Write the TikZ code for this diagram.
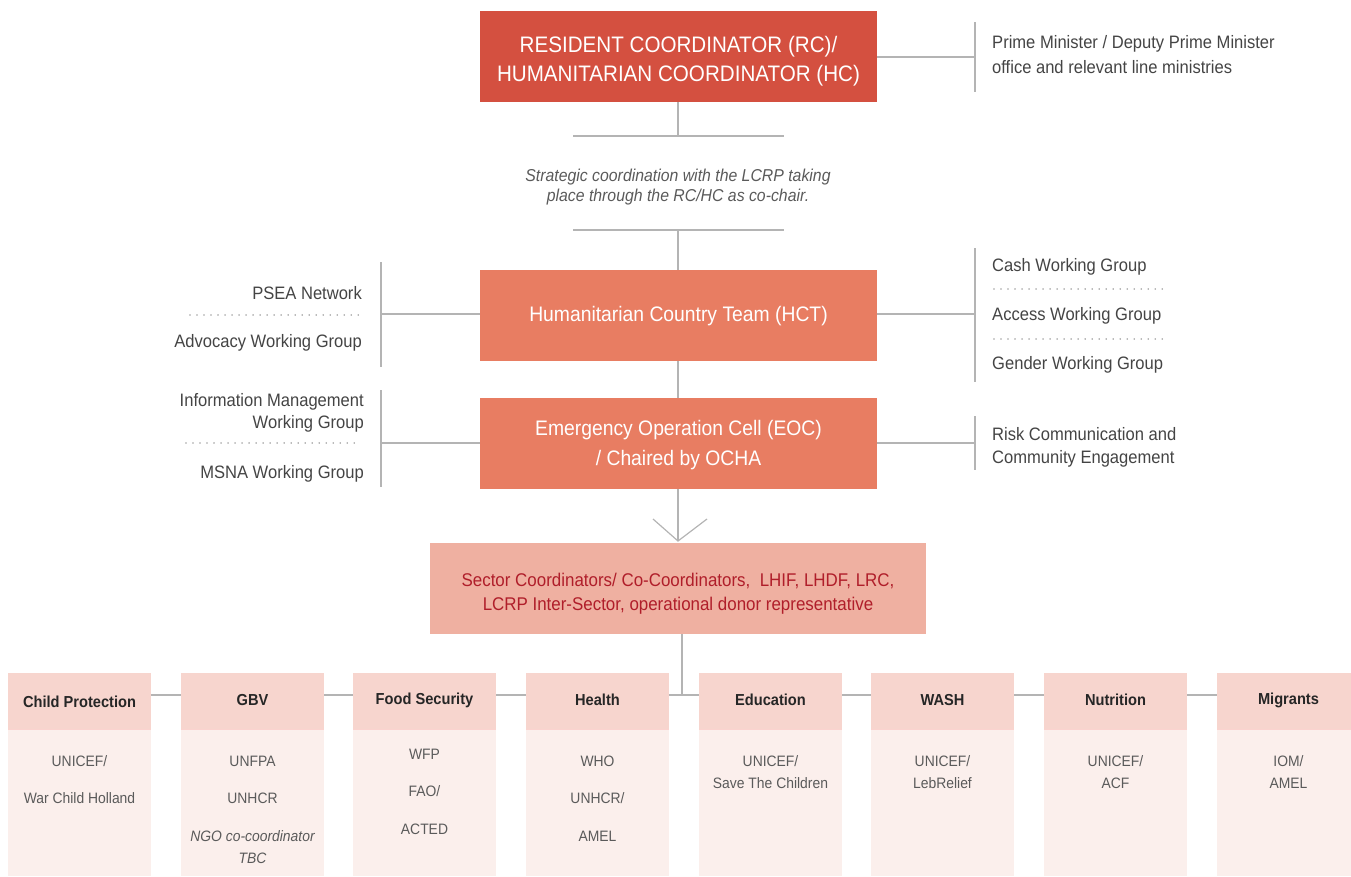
\documentclass[tikz,border=0pt]{standalone}
\usepackage{fontspec}
\setmainfont{Liberation Sans}[FakeStretch=0.92]
\usetikzlibrary{positioning}
\definecolor{rcred}{HTML}{D45040}
\definecolor{hctor}{HTML}{E87D62}
\definecolor{secpk}{HTML}{EFB0A1}
\definecolor{sectx}{HTML}{B01E2A}
\definecolor{hdpk}{HTML}{F7D5CE}
\definecolor{bdpk}{HTML}{FBEFEC}
\definecolor{ln}{HTML}{B4B4B4}
\definecolor{tx}{HTML}{444444}
\definecolor{bt}{HTML}{5A5A5A}
\tikzset{
  conn/.style={draw=ln, line width=1.2pt},
  dots/.style={draw=ln!90!black, line width=1.6pt, dash pattern=on 0.01pt off 7pt, line cap=round},
  lbl/.style={text=tx, font=\fontsize{18}{21}\selectfont, inner sep=0pt, yshift=-2pt},
  hdr/.style={text=black!85, font=\bfseries\fontsize{15.9}{20}\selectfont, inner sep=0pt, yshift=-1pt},
  bdy/.style={text=bt, font=\fontsize{15.1}{19}\selectfont, inner sep=0pt, yshift=-1.5pt},
  bdyit/.style={text=bt, font=\itshape\fontsize{15.1}{19}\selectfont, inner sep=0pt, yshift=-1.5pt},
  wtx/.style={text=white, font=\fontsize{21}{24}\selectfont, inner sep=0pt, yshift=-2pt},
  sttx/.style={text=bt, font=\itshape\fontsize{17.2}{20}\selectfont, inner sep=0pt, yshift=-2pt},
  sctx/.style={text=sectx, font=\fontsize{18.4}{22}\selectfont, inner sep=0pt, yshift=-2pt},
}
\begin{document}
\begin{tikzpicture}[x=1pt,y=-1pt]
\useasboundingbox (0,0) rectangle (1351,876);
% RC box
\fill[rcred] (480,11) rectangle (877,102);
\coordinate (rcR) at (877,57);
\coordinate (rcB) at (678,102);
\node[text=white, font=\fontsize{22.4}{29}\selectfont, align=center, inner sep=0pt] (rc) at (678.5,61) {RESIDENT COORDINATOR (RC)/\\HUMANITARIAN COORDINATOR (HC)};
% PM
\coordinate (pmV1) at (975,22);
\coordinate (pmV2) at (975,92);
\coordinate (pmM) at (975,57);
\draw[conn] (rcR) -- (pmM);
\draw[conn] (pmV1) -- (pmV2);
\node[lbl, anchor=west] (pm1) at (992,42) {Prime Minister / Deputy Prime Minister};
\node[lbl, anchor=west] (pm2) at (992,65) {office and relevant line ministries};
% strategic
\coordinate (s1) at (678,136);
\coordinate (s1L) at (573,136);
\coordinate (s1R) at (784,136);
\coordinate (s2) at (678,230);
\coordinate (s2L) at (573,230);
\coordinate (s2R) at (784,230);
\draw[conn] (rcB) -- (s1);
\draw[conn] (s1L) -- (s1R);
\draw[conn] (s2L) -- (s2R);
\node[sttx] (st1) at (678,175) {Strategic coordination with the LCRP taking};
\node[sttx] (st2) at (678,195) {place through the RC/HC as co-chair.};
% HCT
\fill[hctor] (480,270) rectangle (877,361);
\coordinate (hctT) at (678,270);
\coordinate (hctB) at (678,361);
\coordinate (hctL) at (480,314);
\coordinate (hctR) at (877,314);
\draw[conn] (s2) -- (hctT);
\node[wtx] (hct) at (678.5,314) {Humanitarian Country Team (HCT)};
% HCT left
\coordinate (hl1) at (381,262);
\coordinate (hl2) at (381,367);
\coordinate (hlM) at (381,314);
\draw[conn] (hctL) -- (hlM);
\draw[conn] (hl1) -- (hl2);
\node[lbl, anchor=east] (psea) at (362,291) {PSEA Network};
\coordinate (d1a) at (190,315);
\coordinate (d1b) at (362,315);
\draw[dots] (d1a) -- (d1b);
\node[lbl, anchor=east] (adv) at (362,341) {Advocacy Working Group};
% HCT right
\coordinate (hr1) at (975,248);
\coordinate (hr2) at (975,382);
\coordinate (hrM) at (975,314);
\draw[conn] (hctR) -- (hrM);
\draw[conn] (hr1) -- (hr2);
\node[lbl, anchor=west] (cash) at (992,265) {Cash Working Group};
\coordinate (d2a) at (994,289);
\coordinate (d2b) at (1167,289);
\draw[dots] (d2a) -- (d2b);
\node[lbl, anchor=west] (acc) at (992,314) {Access Working Group};
\coordinate (d3a) at (994,339);
\coordinate (d3b) at (1167,339);
\draw[dots] (d3a) -- (d3b);
\node[lbl, anchor=west] (gen) at (992,363) {Gender Working Group};
% EOC
\fill[hctor] (480,398) rectangle (877,489);
\coordinate (eocT) at (678,398);
\coordinate (eocB) at (678,489);
\coordinate (eocL) at (480,443);
\coordinate (eocR) at (877,443);
\draw[conn] (hctB) -- (eocT);
\node[wtx] (eoc1) at (678.5,428) {Emergency Operation Cell (EOC)};
\node[wtx] (eoc2) at (678.5,458) {/ Chaired by OCHA};
% EOC left
\coordinate (el1) at (381,390);
\coordinate (el2) at (381,487);
\coordinate (elM) at (381,443);
\draw[conn] (eocL) -- (elM);
\draw[conn] (el1) -- (el2);
\node[lbl, anchor=east] (im1) at (364,400) {Information Management};
\node[lbl, anchor=east] (im2) at (364,422) {Working Group};
\coordinate (d4a) at (186,443);
\coordinate (d4b) at (360,443);
\draw[dots] (d4a) -- (d4b);
\node[lbl, anchor=east] (msna) at (364,472) {MSNA Working Group};
% EOC right
\coordinate (er1) at (975,416);
\coordinate (er2) at (975,470);
\coordinate (erM) at (975,443);
\draw[conn] (eocR) -- (erM);
\draw[conn] (er1) -- (er2);
\node[lbl, anchor=west] (rc1) at (992,432) {Risk Communication and};
\node[lbl, anchor=west] (rc2) at (992,457) {Community Engagement};
% arrow
\coordinate (arrT) at (678,541);
\coordinate (arrL) at (653,519);
\coordinate (arrR) at (707,519);
\draw[conn] (eocB) -- (arrT);
\draw[conn] (arrL) -- (arrT) -- (arrR);
% Sector
\fill[secpk] (430,543) rectangle (926,634);
\coordinate (secB) at (682,634);
\node[sctx] (sec1) at (678,579) {Sector Coordinators/ Co-Coordinators,\ \ LHIF, LHDF, LRC,};
\node[sctx] (sec2) at (678,604) {LCRP Inter-Sector, operational donor representative};
\coordinate (bus) at (682,695);
\draw[conn] (secB) -- (bus);
% columns
\coordinate (busL) at (151,695);
\coordinate (busR) at (1217,695);
\draw[conn] (busL) -- (busR);
\foreach \x/\n in {8/c1,181/c2,353/c3,526/c4,699/c5,871/c6,1044/c7,1217/c8}{
  \fill[bdpk] (\x,729) rectangle ++(143,147);
  \fill[hdpk] (\x,673) rectangle ++(143,56);
  \draw[draw=hdpk!85!red!60!white, line width=0.8pt] (\x,729.4) -- ++(143,0);
}
\node[hdr] (h1) at (79.5,701) {Child Protection};
\node[hdr] (h2) at (252.5,699) {GBV};
\node[hdr] (h3) at (424.5,699) {Food Security};
\node[hdr] (h4) at (597.5,699) {Health};
\node[hdr] (h5) at (770.5,699) {Education};
\node[hdr] (h6) at (942.5,699) {WASH};
\node[hdr] (h7) at (1115.5,699) {Nutrition};
\node[hdr] (h8) at (1288.5,699) {Migrants};
% bodies
\node[bdy] (b11) at (79.5,760) {UNICEF/};
\node[bdy] (b12) at (79.5,797) {War Child Holland};
\node[bdy] (b21) at (252.5,760) {UNFPA};
\node[bdy] (b22) at (252.5,797) {UNHCR};
\node[bdyit] (b23) at (252.5,835) {NGO co-coordinator};
\node[bdyit] (b24) at (252.5,857) {TBC};
\node[bdy] (b31) at (424.5,753) {WFP};
\node[bdy] (b32) at (424.5,790) {FAO/};
\node[bdy] (b33) at (424.5,828) {ACTED};
\node[bdy] (b41) at (597.5,760) {WHO};
\node[bdy] (b42) at (597.5,797) {UNHCR/};
\node[bdy] (b43) at (597.5,835) {AMEL};
\node[bdy] (b51) at (770.5,760) {UNICEF/};
\node[bdy] (b52) at (770.5,782) {Save The Children};
\node[bdy] (b61) at (942.5,760) {UNICEF/};
\node[bdy] (b62) at (942.5,782) {LebRelief};
\node[bdy] (b71) at (1115.5,760) {UNICEF/};
\node[bdy] (b72) at (1115.5,782) {ACF};
\node[bdy] (b81) at (1288.5,760) {IOM/};
\node[bdy] (b82) at (1288.5,782) {AMEL};
\end{tikzpicture}
\end{document}
